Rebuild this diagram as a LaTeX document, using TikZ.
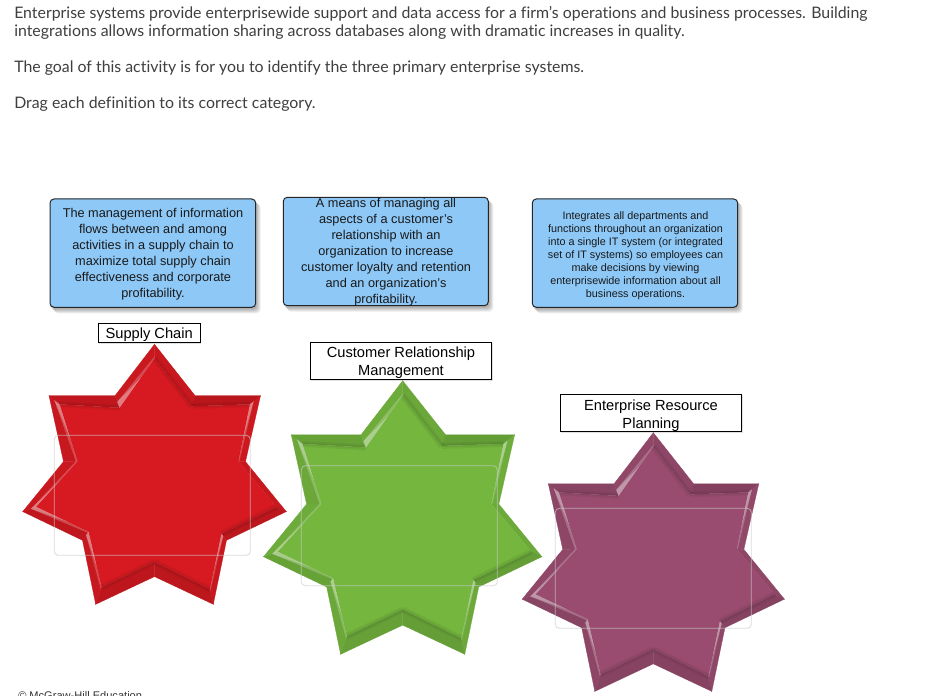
\documentclass[tikz,border=0pt]{standalone}
\usepackage{fontspec}
\usetikzlibrary{calc}
\setmainfont{Liberation Sans}
\newfontfamily\bodyfont[Ligatures=NoCommon]{Lato}
\definecolor{cardblue}{HTML}{8DC8F7}
\definecolor{inktext}{HTML}{3F3F3F}
\definecolor{redbase}{HTML}{D71A21}
\definecolor{greenbase}{HTML}{74B63E}
\definecolor{plumbase}{HTML}{994C6F}
\tikzset{
  intro/.style={anchor=base west,inner sep=0pt,text=inktext,font=\bodyfont\fontsize{11.9pt}{13pt}\selectfont},
  cardbox/.style={draw=black!85,line width=0.75pt,rounded corners=3pt,fill=cardblue},
  cardtext/.style={align=center,inner sep=0pt,text=black!90,font=\fontsize{9.55pt}{12pt}\selectfont},
  cardsmall/.style={align=center,inner sep=0pt,text=black!90,font=\fontsize{8.1pt}{9.75pt}\selectfont},
  tagbox/.style={draw=black,line width=0.75pt,fill=white},
  tag/.style={align=center,inner sep=0pt,font=\fontsize{11pt}{13.8pt}\selectfont},
  dropzone/.style={draw=white!80!black,draw opacity=.7,line width=0.6pt,rounded corners=3pt},
}
% centre x, top y, x scale, y scale, base colour
\newcommand{\MyStar}[5]{
\begin{scope}[shift={(#1,#2)},xscale=#3,yscale=#4]
  \foreach \n/\p in {1/{0,0},2/{40.6,51.4},3/{106,51.4},4/{91,117.3},5/{131.8,167.3},6/{72,196},7/{58.8,260},8/{0,232.3},9/{-58.8,260},10/{-72,196},11/{-131.8,167.3},12/{-91,117.3},13/{-105.5,51.4},14/{-39.5,51.4}}
    {\expandafter\coordinate\expandafter(\expandafter O\n) at (\p);}
  \foreach \n/\p in {1/{0,14},2/{37,62},3/{95.5,60},4/{84,117},5/{122,162.5},6/{67,189.5},7/{55.5,245},8/{0,217.5},9/{-53,243},10/{-66,187.5},11/{-118.5,162.5},12/{-77,117},13/{-95,60},14/{-35,63.5}}
    {\expandafter\coordinate\expandafter(\expandafter I\n) at (\p);}
  \foreach \a/\b/\c in {1/2/92,2/3/86,3/4/95,4/5/93,5/6/87,6/7/93,7/8/87,8/9/88,9/10/92,10/11/89,11/12/94,12/13/92,13/14/89,14/1/94}
    {\filldraw[fill=#5!\c!black,draw=#5!\c!black,line width=0.2pt] (O\a) -- (O\b) -- (I\b) -- (I\a) -- cycle;}
  \fill[#5] (I1) -- (I2) -- (I3) -- (I4) -- (I5) -- (I6) -- (I7) -- (I8) -- (I9) -- (I10) -- (I11) -- (I12) -- (I13) -- (I14) -- cycle;
  \foreach \a/\b in {1/2,2/3,5/6,7/8,8/9,13/14}
    {\draw[black,opacity=.05,line width=4.5pt] (I\a) -- (I\b);
     \draw[black,opacity=.05,line width=2pt] (I\a) -- (I\b);}
  % highlights: wide at the first corner, thin at the second, lying on the band
  \foreach \a/\b/\w in {14/1/.5,13/12/.5,11/12/.35,11/10/.4,10/9/.4,3/4/.35,6/7/.35}
    {\fill[white,opacity=.22] (I\a) -- (I\b) -- ($(I\b)!.12!(O\b)$) -- ($(I\a)!\w!(O\a)$) -- cycle;
     \fill[white,opacity=.28] (I\a) -- ($(I\a)!.6!(I\b)$) -- ($(I\a)!\w!(O\a)$) -- cycle;}
\end{scope}}
\begin{document}
\begin{tikzpicture}[x=0.75pt,y=-0.75pt]
\useasboundingbox (0,0) rectangle (930,695);
\fill[white] (0,0) rectangle (930,695);

\node[intro] (t1) at (14,18.5) {Enterprise systems provide enterprisewide support and data access for a firm’s operations and business processes. Building};
\node[intro] (t2) at (14,36.5) {integrations allows information sharing across databases along with dramatic increases in quality.};
\node[intro] (t3) at (14,72.5) {The goal of this activity is for you to identify the three primary enterprise systems.};
\node[intro] (t4) at (14,108.5) {Drag each definition to its correct category.};

% card shadows
\foreach \xa/\ya/\xb/\yb in {50/199/255.7/307.3,283.3/197.3/488.3/305.7,532.3/199/737.7/307.3}
  \foreach \k in {0,1,2,3,4}
    {\fill[black,opacity=.07,rounded corners=3pt] (\xa+\k,\ya+\k+1) rectangle (\xb+\k+1,\yb+\k+2);}
\draw[cardbox] (50,199) rectangle (255.7,307.3);
\draw[cardbox] (283.3,197.3) rectangle (488.3,305.7);
\draw[cardbox] (532.3,199) rectangle (737.7,307.3);
\node[cardtext] (c1) at (153,254.5) {The management of information\\flows between and among\\activities in a supply chain to\\maximize total supply chain\\effectiveness and corporate\\profitability.};
\node[cardtext] (c2) at (386,252.5) {A means of managing all\\aspects of a customer’s\\relationship with an\\organization to increase\\customer loyalty and retention\\and an organization’s\\profitability.};
\node[cardsmall] (c3) at (635.5,255.5) {Integrates all departments and\\functions throughout an organization\\into a single IT system (or integrated\\set of IT systems) so employees can\\make decisions by viewing\\enterprisewide information about all\\business operations.};

\MyStar{154.5}{344.3}{1}{1}{redbase}
\MyStar{402.7}{380.7}{1.056}{1.052}{greenbase}
\MyStar{653.3}{432.7}{0.995}{0.995}{plumbase}

\draw[dropzone] (54.3,435.3) rectangle (250.3,555.3);
\draw[dropzone] (301.3,465.7) rectangle (497.3,585.7);
\draw[dropzone] (555.3,508.3) rectangle (751.3,628.3);

\foreach \xa/\ya/\xb/\yb in {98.3/323.5/200/342.7,310.3/342/491.7/379.3,560.3/394.3/741.7/431.7}
  {\fill[black,opacity=.12] (\xa+1,\ya+1) rectangle (\xb+1,\yb+1.5);
   \draw[tagbox] (\xa,\ya) rectangle (\xb,\yb);}
\node[tag] (s1) at (149.2,335.2) {Supply Chain};
\node[tag] (s2) at (401,363) {Customer Relationship\\Management};
\node[tag] (s3) at (651,415.5) {Enterprise Resource\\Planning};

\node[anchor=base west,inner sep=0pt,text=black!80,font=\fontsize{8.3pt}{10pt}\selectfont] (foot) at (18,699) {© McGraw-Hill Education};
\end{tikzpicture}
\end{document}
